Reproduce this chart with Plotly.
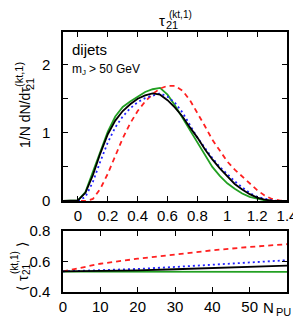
import plotly.graph_objects as go

# ---- data ----
tau = [-0.1, -0.05, 0.0, 0.05, 0.1, 0.15, 0.2, 0.25, 0.3, 0.35, 0.4, 0.45, 0.5, 0.55, 0.6, 0.65,
       0.7, 0.75, 0.8, 0.85, 0.9, 0.95, 1.0, 1.05, 1.1, 1.15, 1.2, 1.25, 1.3, 1.35, 1.4]
black = [0, 0, 0.01, 0.12, 0.38, 0.70, 0.98, 1.18, 1.32, 1.42, 1.50, 1.55, 1.58, 1.56, 1.48, 1.37,
         1.24, 1.08, 0.93, 0.76, 0.61, 0.48, 0.36, 0.25, 0.17, 0.10, 0.05, 0.02, 0.005, 0, 0]
green = [0, 0, 0.01, 0.13, 0.42, 0.74, 1.02, 1.24, 1.38, 1.46, 1.53, 1.60, 1.64, 1.66, 1.56, 1.40,
         1.22, 1.04, 0.88, 0.68, 0.50, 0.37, 0.26, 0.18, 0.11, 0.06, 0.03, 0.01, 0, 0, 0]
blue = [0, 0, 0, 0.06, 0.28, 0.58, 0.86, 1.08, 1.24, 1.36, 1.45, 1.51, 1.55, 1.58, 1.53, 1.44,
        1.30, 1.12, 0.93, 0.78, 0.63, 0.50, 0.39, 0.29, 0.20, 0.12, 0.06, 0.03, 0.01, 0, 0]
red = [0, 0, 0, 0, 0.03, 0.18, 0.40, 0.66, 0.92, 1.14, 1.32, 1.46, 1.57, 1.65, 1.69, 1.69,
       1.62, 1.48, 1.30, 1.10, 0.90, 0.73, 0.58, 0.46, 0.36, 0.26, 0.16, 0.08, 0.03, 0.01, 0]

npu = [0, 10, 20, 30, 40, 50, 60]
red_avg = [0.535, 0.585, 0.618, 0.647, 0.673, 0.695, 0.713]
blue_avg = [0.535, 0.541, 0.551, 0.564, 0.578, 0.593, 0.608]
black_avg = [0.535, 0.537, 0.542, 0.549, 0.556, 0.564, 0.573]
green_avg = [0.533, 0.533, 0.532, 0.532, 0.532, 0.532, 0.532]

main_x_ticks = [0, 0.2, 0.4, 0.6, 0.8, 1, 1.2, 1.4]
main_x_labels = ["0", "0.2", "0.4", "0.6", "0.8", "1", "1.2", "1.4"]
main_y_ticks = [0, 0.5, 1, 1.5, 2]
main_y_labels = ["0", "", "1", "", "2"]
low_x_ticks = [0, 10, 20, 30, 40, 50]
low_y_ticks = [0.4, 0.6, 0.8]

GREEN = "#22a022"
BLUE = "#2020ff"
RED = "#ff2020"
DASH = "5px,4px"
DOT = "2px,3px"

fig = go.Figure()
series = [
    (green, GREEN, "solid"),
    (red, RED, DASH),
    (blue, BLUE, DOT),
    (black, "black", "solid"),
]
for ys, c, d in series:
    fig.add_trace(go.Scatter(x=tau, y=ys, mode="lines", line=dict(color=c, width=1.8, dash=d),
                             xaxis="x", yaxis="y", showlegend=False))
low = [
    (green_avg, GREEN, "solid"),
    (red_avg, RED, DASH),
    (blue_avg, BLUE, DOT),
    (black_avg, "black", "solid"),
]
for ys, c, d in low:
    fig.add_trace(go.Scatter(x=npu, y=ys, mode="lines", line=dict(color=c, width=1.8, dash=d),
                             xaxis="x2", yaxis="y2", showlegend=False))

FONT = "Liberation Sans, Arial, sans-serif"
axcommon = dict(showline=True, linecolor="black", linewidth=1.5, mirror="ticks", ticks="inside",
                ticklen=5, tickcolor="black", tickwidth=1, showgrid=False, zeroline=False,
                automargin=False, ticklabeloverflow="allow",
                tickfont=dict(family=FONT, size=15, color="black"))

# page body has an 8px margin, so the figure is shrunk by that amount
fig.update_layout(
    width=293, height=315,
    margin=dict(l=55, r=14, t=24, b=31),
    paper_bgcolor="white", plot_bgcolor="white",
    xaxis=dict(domain=[0, 1], range=[-0.1, 1.4], tickvals=main_x_ticks, ticktext=main_x_labels,
               anchor="y", **axcommon),
    yaxis=dict(domain=[0.35, 1], range=[0, 2.48], tickvals=main_y_ticks, ticktext=main_y_labels,
               anchor="x", ticklabelstandoff=8, **axcommon),
    xaxis2=dict(domain=[0, 1], range=[0, 60], tickvals=low_x_ticks, anchor="y2", **axcommon),
    yaxis2=dict(domain=[0, 0.235], range=[0.4, 0.8], tickvals=low_y_ticks,
                ticktext=["0.4", "0.6", "0.8"], anchor="x2", ticklabelstandoff=8, **axcommon),
)

def txt(x, y, s, size, angle=0, xanchor="center", yanchor="middle"):
    fig.add_annotation(x=x, y=y, xref="paper", yref="paper", text=s, showarrow=False,
                       font=dict(family=FONT, size=size, color="black"), textangle=angle,
                       xanchor=xanchor, yanchor=yanchor, borderpad=0)

# convert page pixel positions to paper coords (plot area on page: x 63..287, y 32..292)
def px(xp, yp):
    return (xp - 63) / 224, (292 - yp) / 260

# title
x, y = px(162, 21); txt(x, y, "τ", 15)
x, y = px(172, 25); txt(x, y, "21", 11)
x, y = px(180, 14.5); txt(x, y, "(kt,1)", 10)

# in-plot labels
x, y = px(71, 50); txt(x, y, "dijets", 15, xanchor="left")
x, y = px(71, 69); txt(x, y, "m", 12, xanchor="left")
x, y = px(81, 72); txt(x, y, "J", 8, xanchor="left")
x, y = px(88, 69); txt(x, y, "> 50 GeV", 12, xanchor="left")

# main y label
x, y = px(25, 118); txt(x, y, "1/N dN/dτ", 14, angle=-90)
x, y = px(30, 84); txt(x, y, "21", 11, angle=-90)
x, y = px(19, 75); txt(x, y, "(kt,1)", 11, angle=-90)

# lower y label
x, y = px(22, 289); txt(x, y, "⟨", 14, angle=-90)
x, y = px(23, 278); txt(x, y, "τ", 14, angle=-90)
x, y = px(26, 269); txt(x, y, "21", 10, angle=-90)
x, y = px(14, 263); txt(x, y, "(kt,1)", 10, angle=-90)
x, y = px(22, 245); txt(x, y, "⟩", 14, angle=-90)

# N_PU
x, y = px(268, 307); txt(x, y, "N", 15)
x, y = px(283, 312); txt(x, y, "PU", 11)

fig.write_html("out.html")
